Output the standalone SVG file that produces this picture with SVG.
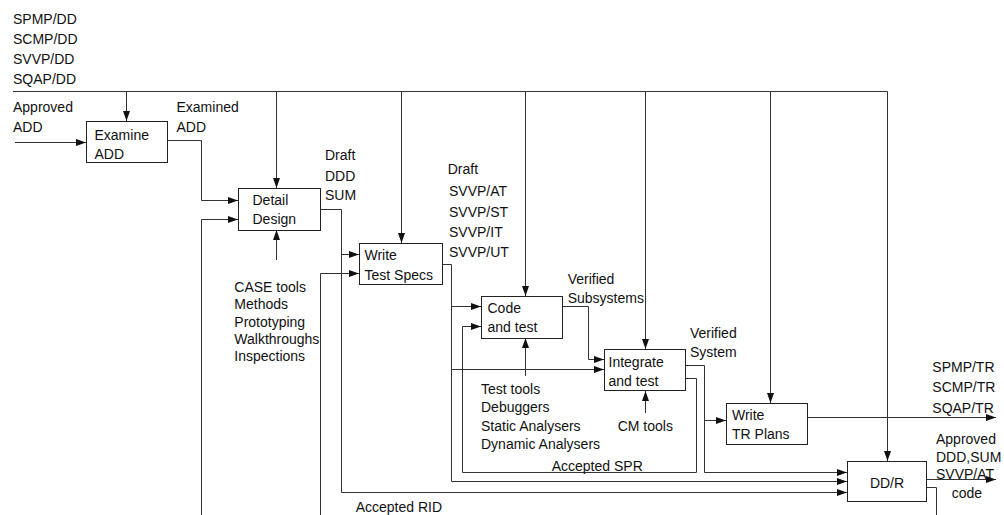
<svg xmlns="http://www.w3.org/2000/svg" width="1004" height="515" viewBox="0 0 1004 515">
<style>
text{font-family:"Liberation Sans",Arial,sans-serif;font-size:14px;fill:#111}
.box{fill:#fff;stroke:#222;stroke-width:1}
.c{fill:none;stroke:#333;stroke-width:1}
.a{marker-end:url(#arr)}
</style>
<defs>
<marker id="arr" markerUnits="userSpaceOnUse" markerWidth="11" markerHeight="8" refX="10" refY="3.5" orient="auto">
<path d="M0,0 L10,3.5 L0,7 z" fill="#111"/>
</marker>
</defs>
<rect width="1004" height="515" fill="#fff"/>
<g id="connectors">
<path class="c a" d="M13,91.5 H887.5 V461"/>
<path class="c a" d="M126.5,91.5 V121"/>
<path class="c a" d="M276.5,91.5 V188"/>
<path class="c a" d="M401.5,91.5 V243"/>
<path class="c a" d="M525.5,91.5 V296"/>
<path class="c a" d="M645.5,91.5 V349"/>
<path class="c a" d="M770.5,91.5 V403"/>
<path class="c a" d="M15,142.5 H86"/>
<path class="c a" d="M167,140.5 H201.5 V200.5 H238"/>
<path class="c a" d="M201.5,515 V219.5 H238"/>
<path class="c a" d="M276.5,260 V230"/>
<path class="c a" d="M320,209.5 H341.5 V492.5 H847"/>
<path class="c a" d="M341.5,254.5 H359"/>
<path class="c a" d="M320.5,515 V273.5 H359"/>
<path class="c a" d="M443,264.5 H451.5 V481.5 H847"/>
<path class="c a" d="M451.5,306.5 H481"/>
<path class="c a" d="M451.5,369.5 H604"/>
<path class="c a" d="M525.5,376 V338"/>
<path class="c a" d="M563,306.5 H588.5 V359.5 H604"/>
<path class="c a" d="M686,365.5 H704.5 V472.5 H847"/>
<path class="c a" d="M704.5,420.5 H726"/>
<path class="c a" d="M686,378.5 H696.5 V472.5 H462.5 V326.5 H481"/>
<path class="c a" d="M645.5,413 V391"/>
<path class="c a" d="M807,417.5 H996"/>
<path class="c a" d="M927,479.5 H996"/>
<path class="c" d="M927,487.5 H936.5 V515"/>
</g>
<g id="examine">
<rect class="box" x="86.5" y="121.5" width="81" height="41"/>
<text x="94.5" y="140">Examine</text>
<text x="94.5" y="159.3">ADD</text>
</g>
<g id="detail">
<rect class="box" x="238.5" y="188.5" width="82" height="42"/>
<text x="252.5" y="205">Detail</text>
<text x="252.5" y="224.3">Design</text>
</g>
<g id="wts">
<rect class="box" x="359.5" y="243.5" width="83" height="41"/>
<text x="364.5" y="260">Write</text>
<text x="364.5" y="280">Test Specs</text>
</g>
<g id="code">
<rect class="box" x="481.5" y="296.5" width="81" height="42"/>
<text x="487.5" y="313.3">Code</text>
<text x="487.5" y="332.3">and test</text>
</g>
<g id="integrate">
<rect class="box" x="604.5" y="349.5" width="81" height="41"/>
<text x="608.5" y="366.7">Integrate</text>
<text x="608.5" y="386">and test</text>
</g>
<g id="trplans">
<rect class="box" x="726.5" y="403.5" width="81" height="41"/>
<text x="732" y="420">Write</text>
<text x="732" y="439.3">TR Plans</text>
</g>
<g id="ddr">
<rect class="box" x="847.5" y="461.5" width="79" height="40"/>
<text x="887" y="487.7" text-anchor="middle">DD/R</text>
</g>
<g id="labels">
<text x="13" y="24.3">SPMP/DD</text>
<text x="13" y="44.3">SCMP/DD</text>
<text x="13" y="64.3">SVVP/DD</text>
<text x="13" y="84.3">SQAP/DD</text>
<text x="13" y="112.3">Approved</text>
<text x="13" y="131.7">ADD</text>
<text x="176.5" y="112.3">Examined</text>
<text x="176.5" y="131.7">ADD</text>
<text x="325" y="159.5">Draft</text>
<text x="325" y="180.5">DDD</text>
<text x="325" y="200">SUM</text>
<text x="447.7" y="174">Draft</text>
<text x="449" y="196">SVVP/AT</text>
<text x="449" y="216.7">SVVP/ST</text>
<text x="449" y="236.7">SVVP/IT</text>
<text x="449" y="257.3">SVVP/UT</text>
<text x="234.3" y="291.7">CASE tools</text>
<text x="234.3" y="309.3">Methods</text>
<text x="234.3" y="326.7">Prototyping</text>
<text x="234.3" y="344">Walkthroughs</text>
<text x="234.3" y="361.3">Inspections</text>
<text x="567.7" y="284">Verified</text>
<text x="567.7" y="303.3">Subsystems</text>
<text x="481" y="394">Test tools</text>
<text x="481" y="412.3">Debuggers</text>
<text x="481" y="430.7">Static Analysers</text>
<text x="481" y="449.3">Dynamic Analysers</text>
<text x="617.7" y="430.7">CM tools</text>
<text x="690" y="337.7">Verified</text>
<text x="690" y="357.3">System</text>
<text x="551.7" y="471.3">Accepted SPR</text>
<text x="932.3" y="371.7">SPMP/TR</text>
<text x="932.3" y="392.3">SCMP/TR</text>
<text x="932.3" y="413.3">SQAP/TR</text>
<text x="936" y="444">Approved</text>
<text x="936" y="461.5">DDD,SUM</text>
<text x="936" y="479">SVVP/AT</text>
<text x="951.7" y="498.3">code</text>
<text x="355.7" y="512.3">Accepted RID</text>
</g>
</svg>
